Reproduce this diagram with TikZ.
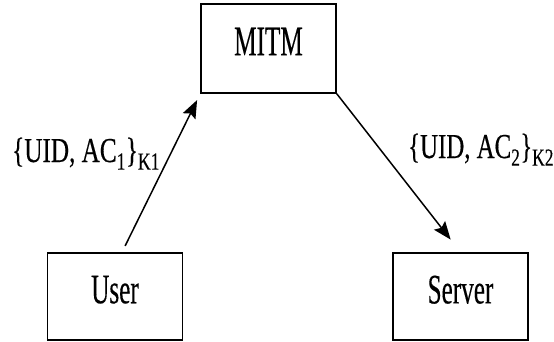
\documentclass[tikz,border=0pt]{standalone}
\usepackage{fontspec}
\setmainfont{Liberation Serif}[FakeBold=0.35]
\usetikzlibrary{arrows.meta}
\newcommand{\squeeze}[2]{\scalebox{#1}[1]{#2}}

\begin{document}
\begin{tikzpicture}[x=1pt,y=-1pt,
    every node/.style={font=\fontsize{42}{46}\selectfont},
    party/.style={draw,line width=1.6pt,minimum width=135pt,minimum height=87pt,inner sep=0pt,text depth=14pt},
    msg/.style={inner sep=0pt,anchor=base west,font=\fontsize{35}{38}\selectfont},
    flow/.style={line width=1.5pt,-{Stealth[length=18pt,width=14pt,inset=3pt]}}]
    \useasboundingbox (0,0) rectangle (554,342);

    % Parties
    \node[party,minimum height=89pt] (mitm) at (268.5,48.5) {\squeeze{0.6}{MITM}};
    \node[party] (user) at (115,296.5) {\squeeze{0.6}{User}};
    \node[party] (server) at (460.5,296.5) {\squeeze{0.6}{Server}};

    % Messages
    \draw[flow,shorten <=7pt,shorten >=7pt] (user.81) -- (mitm.south west);
    \draw[flow,shorten >=16pt] (mitm.south east) -- (server.north);
    \node[msg] (msg1) at (12,162) {\squeeze{0.72}{\{UID, AC\textsubscript{1}\}\textsubscript{K1}}};
    \node[msg] (msg2) at (408,158) {\squeeze{0.71}{\{UID, AC\textsubscript{2}\}\textsubscript{K2}}};
\end{tikzpicture}
\end{document}
